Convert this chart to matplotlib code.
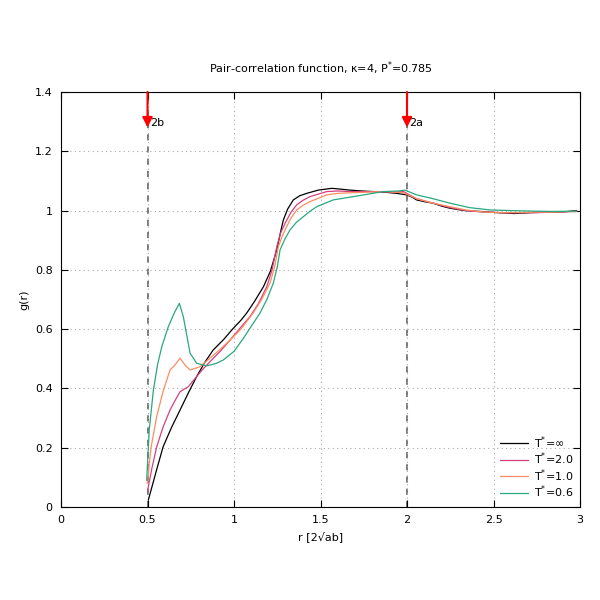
import matplotlib.pyplot as plt

# T* = infinity (hard particles)
r_inf = [0.505, 0.55, 0.59, 0.64, 0.688, 0.736, 0.784, 0.83, 0.88, 0.94, 0.996, 1.04, 1.073, 1.12, 1.17, 1.21,
         1.247, 1.27, 1.285, 1.31, 1.343, 1.38, 1.42, 1.487, 1.565, 1.62, 1.67, 1.74, 1.805, 1.87, 1.94, 1.998,
         2.03, 2.055, 2.1, 2.15, 2.2, 2.247, 2.33, 2.42, 2.52, 2.62, 2.72, 2.82, 2.9, 2.98]
g_inf = [0.024, 0.12, 0.203, 0.27, 0.327, 0.385, 0.44, 0.487, 0.53, 0.565, 0.603, 0.63, 0.654, 0.695, 0.743, 0.795,
         0.867, 0.93, 0.968, 1.005, 1.036, 1.05, 1.058, 1.069, 1.075, 1.072, 1.069, 1.066, 1.064, 1.062, 1.058, 1.053,
         1.045, 1.036, 1.03, 1.025, 1.015, 1.008, 1.0, 0.997, 0.993, 0.99, 0.993, 0.995, 0.995, 1.0]

# T* = 2.0
r_t20 = [0.501, 0.525, 0.553, 0.59, 0.63, 0.66, 0.688, 0.736, 0.784, 0.82, 0.861, 0.92, 0.977, 1.03, 1.092,
         1.14, 1.189, 1.22, 1.247, 1.27, 1.295, 1.33, 1.362, 1.4, 1.439, 1.536, 1.6, 1.67, 1.77, 1.863, 1.93, 1.98,
         2.055, 2.15, 2.248, 2.34, 2.44, 2.55, 2.65, 2.75, 2.85, 2.98]
g_t20 = [0.057, 0.13, 0.203, 0.27, 0.327, 0.36, 0.389, 0.406, 0.44, 0.465, 0.49, 0.525, 0.563, 0.6, 0.642,
         0.685, 0.743, 0.8, 0.878, 0.925, 0.957, 0.995, 1.019, 1.035, 1.047, 1.064, 1.066, 1.064, 1.064, 1.064,
         1.062, 1.064, 1.04, 1.025, 1.01, 1.0, 0.995, 0.993, 0.993, 0.993, 0.995, 0.997]

# T* = 1.0
r_t10 = [0.499, 0.52, 0.553, 0.59, 0.63, 0.66, 0.688, 0.717, 0.746, 0.803, 0.861, 0.92, 0.977, 1.04, 1.11,
         1.16, 1.208, 1.235, 1.256, 1.28, 1.304, 1.33, 1.362, 1.4, 1.439, 1.536, 1.6, 1.67, 1.77, 1.863, 1.93, 1.98,
         2.055, 2.15, 2.248, 2.34, 2.44, 2.55, 2.65, 2.75, 2.85, 2.98]
g_t10 = [0.08, 0.2, 0.305, 0.39, 0.462, 0.48, 0.502, 0.479, 0.462, 0.473, 0.502, 0.532, 0.563, 0.6, 0.654,
         0.7, 0.755, 0.81, 0.878, 0.915, 0.946, 0.975, 1.002, 1.018, 1.03, 1.053, 1.058, 1.06, 1.062, 1.064,
         1.062, 1.06, 1.04, 1.025, 1.013, 1.002, 0.995, 0.993, 0.993, 0.995, 0.995, 0.997]

# T* = 0.6
r_t06 = [0.495, 0.51, 0.534, 0.558, 0.582, 0.62, 0.655, 0.684, 0.707, 0.746, 0.784, 0.842, 0.9, 0.938, 1.0,
         1.054, 1.1, 1.15, 1.19, 1.227, 1.25, 1.266, 1.295, 1.324, 1.36, 1.4, 1.44, 1.478, 1.574, 1.71, 1.863, 1.95,
         1.988, 2.055, 2.15, 2.248, 2.36, 2.48, 2.6, 2.73, 2.85, 2.98]
g_t06 = [0.09, 0.26, 0.395, 0.48, 0.54, 0.608, 0.655, 0.687, 0.642, 0.519, 0.485, 0.476, 0.485, 0.496, 0.525,
         0.569, 0.61, 0.654, 0.7, 0.755, 0.81, 0.867, 0.905, 0.935, 0.96, 0.979, 0.998, 1.013, 1.036, 1.049, 1.064,
         1.066, 1.069, 1.053, 1.04, 1.025, 1.01, 1.002, 1.0, 0.998, 0.997, 0.998]

series = [
    (r_inf, g_inf, "black", r"T$^{*}$=∞"),
    (r_t20, g_t20, "#d6407f", r"T$^{*}$=2.0"),
    (r_t10, g_t10, "#fc8d62", r"T$^{*}$=1.0"),
    (r_t06, g_t06, "#2aa87f", r"T$^{*}$=0.6"),
]

markers = [(0.5, "2b"), (2.0, "2a")]

fig = plt.figure(figsize=(6, 6), dpi=100)
ax = fig.add_axes([0.1017, 0.155, 0.865, 0.6917])

for xm, lab in markers:
    ax.axvline(xm, color="#555555", lw=1.1, ls=(0, (4, 4)), zorder=1)
    ax.annotate("", xy=(xm, 1.28), xytext=(xm, 1.4),
                arrowprops=dict(arrowstyle="-|>", color="red", lw=1.5,
                                mutation_scale=15, shrinkA=0, shrinkB=0),
                zorder=5)
    ax.text(xm + 0.015, 1.295, lab, fontsize=8, va="center", ha="left")

for r, g, col, lab in series:
    ax.plot(r, g, color=col, lw=0.9, label=lab, zorder=3)

ax.set_xlim(0, 3)
ax.set_ylim(0, 1.4)
ax.set_xticks([0, 0.5, 1, 1.5, 2, 2.5, 3])
ax.set_xticklabels(["0", "0.5", "1", "1.5", "2", "2.5", "3"])
ax.set_yticks([0, 0.2, 0.4, 0.6, 0.8, 1.0, 1.2, 1.4])
ax.set_yticklabels(["0", "0.2", "0.4", "0.6", "0.8", "1", "1.2", "1.4"])
ax.tick_params(direction="in", top=True, right=True, labelsize=8, length=5, pad=6)
ax.grid(True, linestyle=(0, (1, 3)), color="#aaaaaa", lw=0.8)

ax.set_xlabel("r [2√ab]", fontsize=8)
ax.set_ylabel("g(r)", fontsize=8)
ax.set_title(r"Pair-correlation function, κ=4, P$^{*}$=0.785", fontsize=8, pad=14)

ax.legend(loc="lower right", frameon=False, fontsize=8, handlelength=2.6,
          handletextpad=0.5, labelspacing=0.0, borderaxespad=0.2,
          bbox_to_anchor=(1.0, 0.0))

fig.savefig("out.png", dpi=100)
